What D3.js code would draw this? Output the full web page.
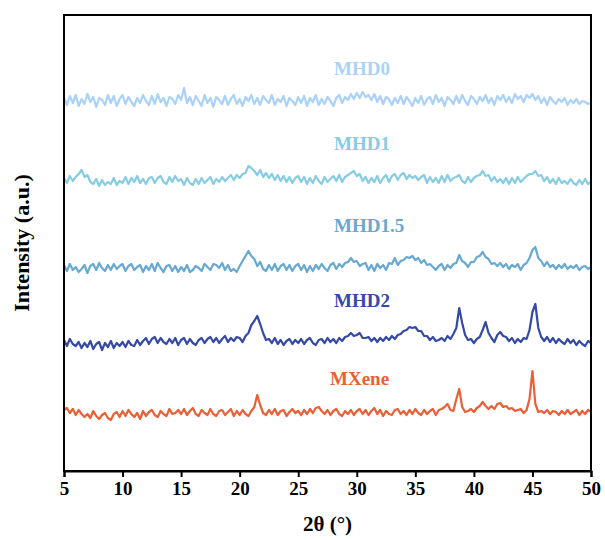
<!DOCTYPE html>
<html>
<head>
<meta charset="utf-8">
<script src="https://cdn.jsdelivr.net/npm/d3@7"></script>
<style>
  body { margin: 0; background: #fff; }
  text { font-family: "Liberation Serif", "Times New Roman", serif; font-weight: bold; }
</style>
</head>
<body>
<svg id="chart" width="605" height="540"></svg>
<script>
  // 2-theta grid, 5 to 50 deg in 0.25 deg steps
  const thetaStart = 5, thetaStep = 0.25;
  const xTicks = [5, 10, 15, 20, 25, 30, 35, 40, 45, 50];

  const names   = ["MHD0", "MHD1", "MHD1.5", "MHD2", "MXene"];
  const offsets = [370, 291, 203, 129, 58];   // vertical stacking (a.u.)
  const colors  = ["#aad2f8", "#86cde3", "#67a9d0", "#3549a6", "#ea5f35"];

  // intensities, relative to each baseline
  const mhd0 = [
    3, -4, 5, -2, 6, -5, 2, -3, 7, -1, 4, -6, 3, 1, -4, 6, -2, 5, -5, 2,
    6, -3, 4, -1, -5, 3, -2, 6, 0, -4, 5, -3, 7, -1, 3, -5, 4, 2, -3, 6,
    1, 13, -2, 4, -4, 5, 0, -5, 6, -2, 3, -6, 4, 1, -3, 5, -4, 2, 6, -3,
    2, -5, 4, 0, 6, -3, 3, -4, 5, 1, -2, 6, -4, 2, -1, 5, -5, 3, 0, -4,
    4, -2, 5, -5, 3, -1, 6, -4, 2, -3, 4, 0, -5, 3, 6, -2, 4, 1, 7, 2,
    8, 3, 9, 4, 6, 1, 7, -1, 5, -3, 4, 2, -4, 3, -2, 5, -3, 4, 0, -5,
    3, -2, 5, -4, 2, 4, -3, 6, -1, 3, -5, 4, 1, -3, 5, -2, 6, 0, -4, 5,
    2, -3, 4, 0, 6, -2, 3, -4, 5, 1, 6, -1, 4, -2, 7, 2, 5, -1, 6, 3,
    7, 1, 5, -2, 3, -4, 4, 0, -3, 2, -1, 3, -4, 1, -2, 2, -3, 0, -1, -3,
    -2
  ];
  const mhd1 = [
    2, -3, 4, -1, 3, 6, 10, 3, 5, -2, -4, 1, -6, 0, -5, -2, -4, 2, -5, -1,
    -3, 3, -4, 2, -2, 4, -3, 1, -4, 2, 3, -3, 2, 4, -2, -4, 3, -2, 4, -1,
    1, -5, 2, -3, -5, 1, -4, 2, -3, 0, 3, -4, 1, -2, 3, -1, 2, 5, 0, 5,
    2, 6, 7, 14, 12, 9, 5, 10, 3, 7, 2, 6, 0, 5, -1, 4, -2, 3, -3, 2,
    4, -2, 3, -4, 2, -3, 4, -1, -4, 3, -2, 1, 4, -1, 5, -2, 3, 5, 7, 9,
    4, 6, -1, 3, -3, 2, -2, 4, -3, 2, 5, -2, 4, 6, 0, 5, 7, 1, 5, 2,
    4, 0, 3, 5, -3, 3, -2, 2, -3, 4, -2, 5, -1, 2, 3, 5, -1, -3, 3, -2,
    2, 4, 5, 9, 4, 5, -1, 3, -2, 1, -3, 2, -4, 2, -3, 3, -2, 1, 4, 6,
    6, 9, 4, 5, -1, 3, -3, 1, -4, 2, -3, -1, -4, 1, -3, -5, 0, -4, 1, -4,
    -2
  ];
  const mhd15 = [
    3, -3, 4, -2, 1, -4, -1, 3, -5, 2, 4, -2, 5, 0, -3, 3, -2, 4, -1, 2,
    4, -3, 2, 4, -2, 1, 3, -4, 2, -2, 4, -3, 5, 0, -4, 2, 3, -3, 2, -4,
    1, -3, 3, -4, -2, 2, 0, -3, 4, 1, -2, 4, 3, 0, 5, -2, 3, -3, -1, -4,
    2, 7, 12, 17, 12, 9, 2, 6, -1, -3, 3, -2, 4, -3, 2, 4, -2, 3, -3, 2,
    4, -2, 3, -4, 2, -3, 3, -1, 4, 0, -3, 3, 5, -1, 4, 1, 5, 6, 10, 6,
    7, 2, 4, 5, -2, 3, -3, 4, 0, 3, -2, 5, 4, 10, 3, 7, 8, 11, 10, 12,
    8, 10, 5, 8, 3, 4, 1, -2, 2, 4, -2, 3, 0, 4, 5, 13, 7, 5, 1, 6,
    6, 11, 12, 16, 11, 9, 4, 5, 2, 5, 1, 4, -1, 3, 1, 4, -2, 3, 5, 10,
    18, 21, 10, 7, 2, 6, 1, 3, -1, 3, 0, 4, -1, 2, 0, 3, -2, 1, 2, -1,
    1
  ];
  const mhd2 = [
    2, -4, 3, -2, -4, 0, -6, -1, -5, 1, -7, -2, 0, -8, -1, -5, 1, -6, -1, -4,
    0, -5, 1, -3, -4, 2, -3, 1, 4, -2, 3, 5, -1, 4, 0, -2, 3, -1, 4, -3,
    2, 4, -2, 3, -1, -3, 2, 4, -1, 3, 5, 0, 4, -1, 3, 6, 0, 4, 1, 5,
    4, 0, 6, 9, 17, 21, 26, 18, 9, 2, 3, -1, 4, -2, 2, -3, 1, 3, -2, 2,
    -1, 3, -2, 2, 4, -1, -3, 2, 3, -1, 4, 0, 3, -1, 4, 1, 5, 6, 9, 6,
    7, 9, 4, 4, 5, 1, 4, 0, 4, 1, 5, 2, 6, 3, 7, 8, 11, 12, 15, 14,
    15, 11, 11, 6, 6, 2, 5, 1, 2, 4, 1, 6, 3, 8, 14, 34, 19, 7, 2, 3,
    -1, 3, 5, 12, 20, 9, 4, 0, 7, 10, 6, 5, 1, 4, -1, 3, 0, 4, 3, 12,
    30, 38, 14, 5, 1, 5, 0, 4, -1, 3, 0, -2, 3, -1, 2, -3, 1, -2, -4, 1,
    -1
  ];
  const mxene = [
    3, 5, 0, 4, -2, 3, -1, -4, -1, -5, 2, -3, -6, -2, 0, -5, -7, -1, 1, -4,
    2, -3, 3, -1, -4, 0, -6, 2, -3, 1, 3, -2, -4, 2, -1, -3, 4, -1, 0, 3,
    -1, 4, -2, 2, 5, -1, -3, 3, 0, -2, 4, -1, -3, 2, 3, -2, 1, 4, -3, 2,
    -2, 3, -1, -3, 2, 6, 18, 8, 0, -2, 3, -1, 4, -2, 2, 3, -3, 1, 4, 0,
    2, -2, 3, -1, 4, 0, 5, 6, 2, -1, 3, -2, 2, 4, -1, -3, 2, -1, 3, -2,
    2, 4, -1, 3, -2, 2, 5, -1, 3, -3, 2, -1, -2, 3, 4, -1, 2, -2, 3, -1,
    4, 0, -2, 3, -1, 2, 4, -2, 3, 4, 6, 9, 3, 2, 14, 24, 6, 1, 2, 4,
    1, 5, 7, 11, 7, 4, 7, 4, 9, 10, 6, 7, 4, 5, 2, 3, 4, 0, 3, 14,
    42, 9, 1, 2, 0, 3, -1, 2, 1, -2, 2, -1, 3, -1, 1, 3, -2, 2, -1, 3,
    1
  ];
  const seriesValues = [mhd0, mhd1, mhd15, mhd2, mxene];

  const svg = d3.select("#chart");
  const plot = { left: 64, right: 591, top: 15, bottom: 471 };

  const x = d3.scaleLinear().domain([5, 50]).range([plot.left, plot.right]);
  const y = d3.scaleLinear().domain([0, 456]).range([plot.bottom, plot.top]);

  const line = d3.line()
    .x((d, i) => x(thetaStart + i * thetaStep))
    .y(d => y(d));

  // curves
  seriesValues.forEach((vals, k) => {
    svg.append("path")
      .datum(vals.map(v => v + offsets[k]))
      .attr("d", line)
      .attr("fill", "none")
      .attr("stroke", colors[k])
      .attr("stroke-width", 2.2)
      .attr("stroke-linejoin", "round");
  });

  // series labels
  const labelBase = [75, 150, 232, 307, 385];
  names.forEach((n, k) => {
    svg.append("text")
      .attr("x", k === 4 ? 330 : 334)
      .attr("y", labelBase[k])
      .attr("fill", colors[k])
      .style("font-size", "19px")
      .text(n);
  });

  // frame
  svg.append("rect")
    .attr("x", plot.left).attr("y", plot.top)
    .attr("width", plot.right - plot.left)
    .attr("height", plot.bottom - plot.top)
    .attr("fill", "none")
    .attr("stroke", "#000")
    .attr("stroke-width", 2);

  // x axis
  const xAxis = svg.append("g")
    .attr("transform", "translate(0," + plot.bottom + ")")
    .call(d3.axisBottom(x).tickValues(xTicks).tickSize(6).tickPadding(5));
  xAxis.select(".domain").attr("stroke-width", 2);
  xAxis.selectAll(".tick line").attr("stroke-width", 2);
  xAxis.selectAll(".tick text")
    .style("font-family", '"Liberation Serif", serif')
    .style("font-weight", "bold")
    .style("font-size", "19px")
    .attr("fill", "#000");

  // axis titles
  svg.append("text")
    .attr("x", (plot.left + plot.right) / 2)
    .attr("y", 531)
    .attr("text-anchor", "middle")
    .style("font-size", "21px")
    .text("2θ (°)");

  svg.append("text")
    .attr("transform", "translate(29,243) rotate(-90)")
    .attr("text-anchor", "middle")
    .style("font-size", "22px")
    .text("Intensity (a.u.)");
</script>
</body>
</html>
